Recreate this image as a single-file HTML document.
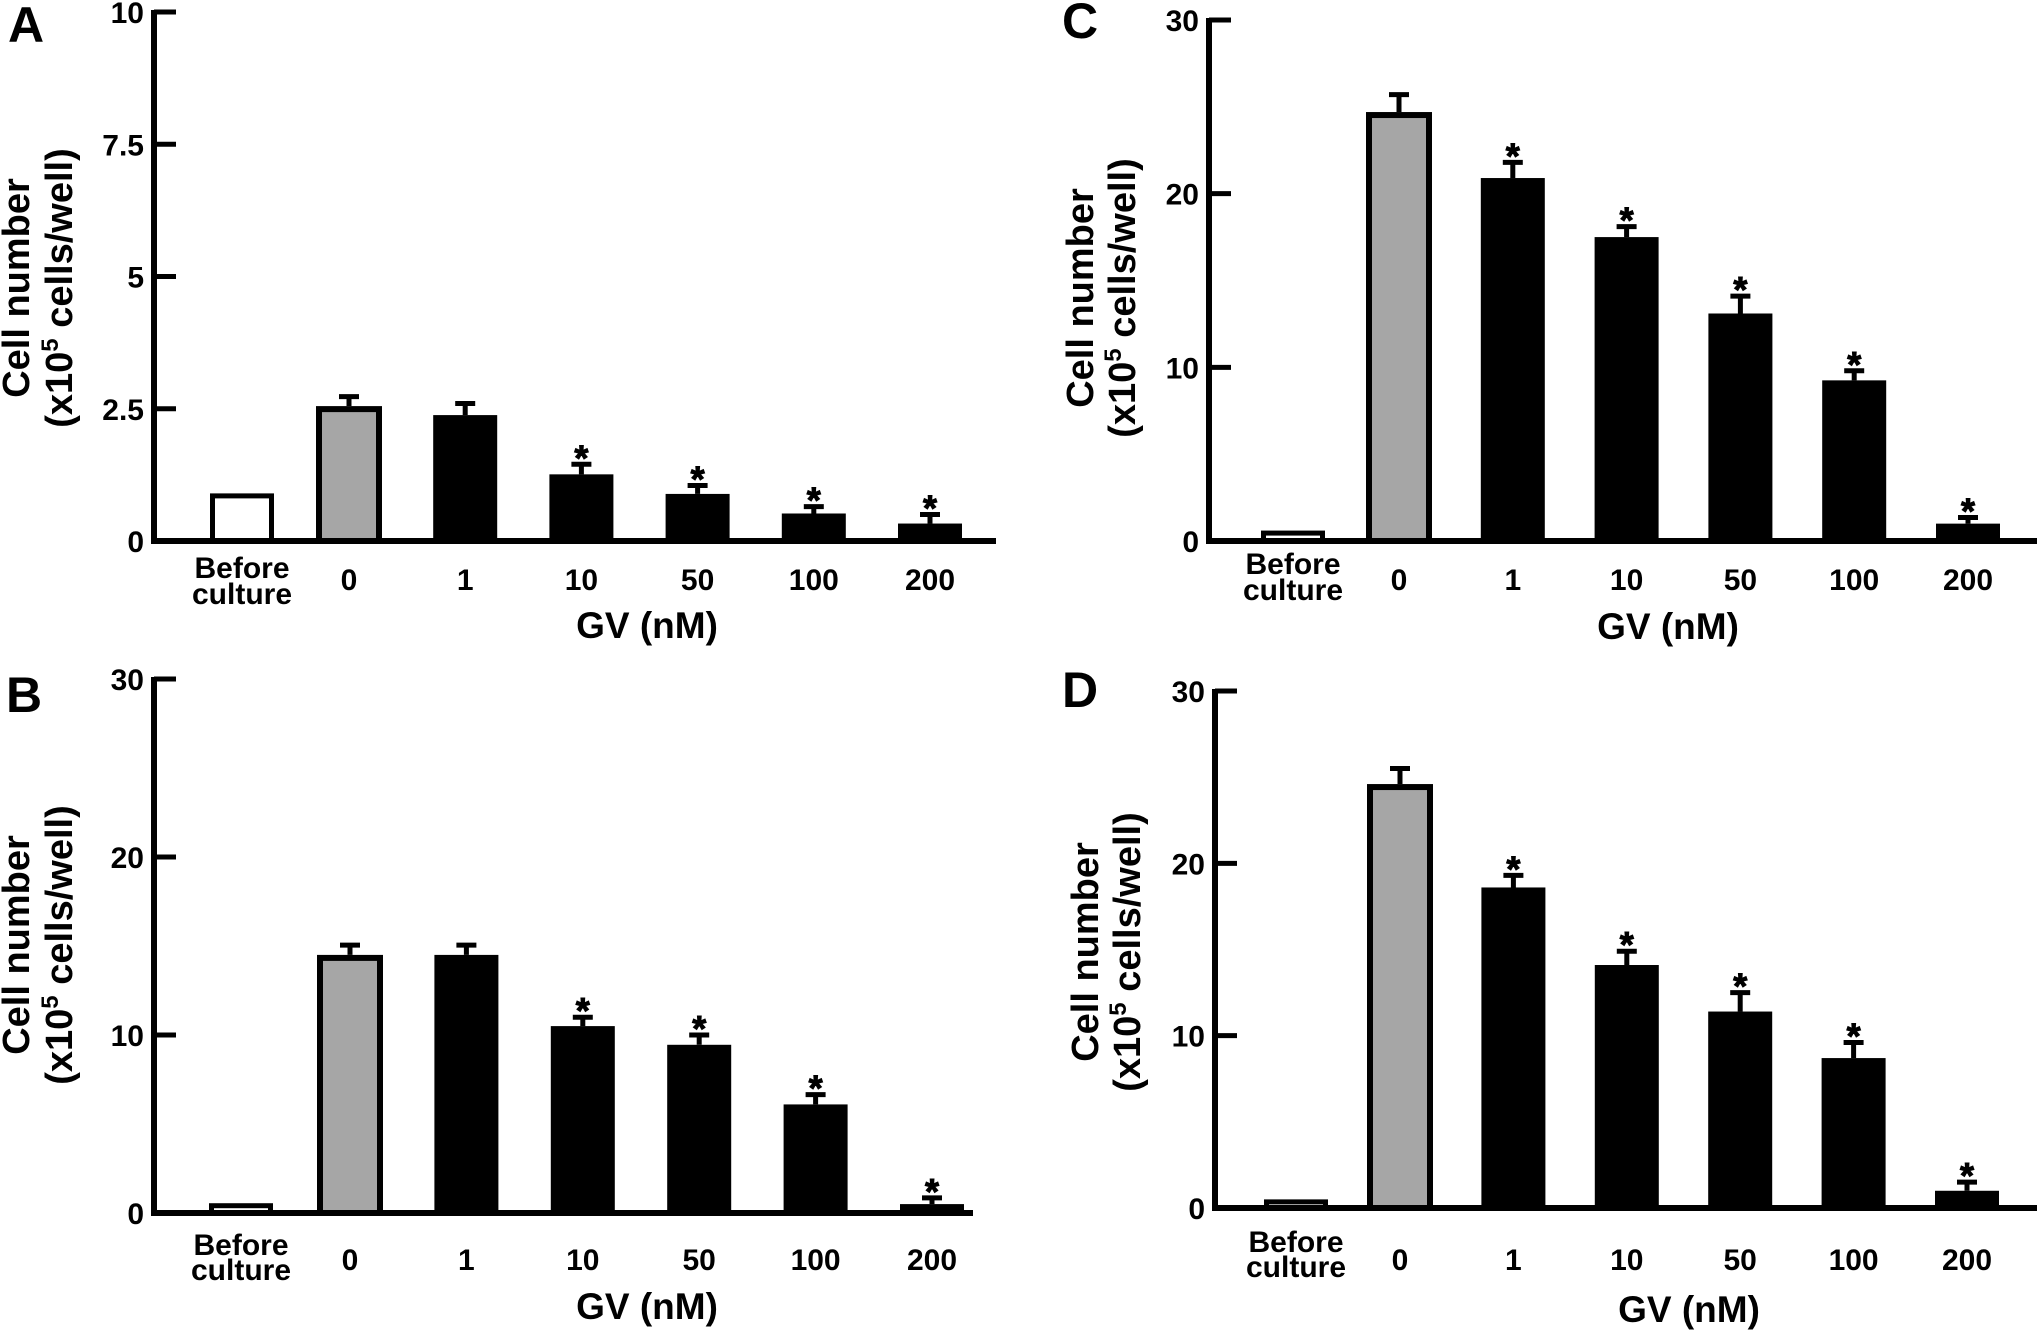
<!DOCTYPE html>
<html><head><meta charset="utf-8"><style>
html,body{margin:0;padding:0;background:#fff;}
svg{display:block;font-family:"Liberation Sans",Arial,sans-serif;font-weight:bold;}
</style></head><body>
<svg id="fig" width="2037" height="1331" viewBox="0 0 2037 1331"></svg>
<script>
const categories = ["Before culture","0","1","10","50","100","200"];
const valuesA = [0.9, 2.55, 2.38, 1.26, 0.89, 0.52, 0.33];
const errorsA = [0, 0.18, 0.22, 0.19, 0.16, 0.13, 0.17];
const starsA = [false,false,false,true,true,true,true];
const ticksA = [0, 2.5, 5, 7.5, 10];
const tickLabelsA = ["0","2.5","5","7.5","10"];
const valuesB = [0.55, 14.5, 14.5, 10.5, 9.45, 6.1, 0.5];
const errorsB = [0, 0.55, 0.55, 0.5, 0.55, 0.55, 0.35];
const starsB = [false,false,false,true,true,true,true];
const valuesC = [0.6, 24.7, 20.9, 17.5, 13.1, 9.25, 1.0];
const errorsC = [0, 1.0, 0.9, 0.6, 1.0, 0.55, 0.35];
const starsC = [false,false,true,true,true,true,true];
const valuesD = [0.5, 24.6, 18.6, 14.1, 11.4, 8.7, 1.0];
const errorsD = [0, 0.9, 0.7, 0.8, 1.1, 0.9, 0.5];
const starsD = [false,false,true,true,true,true,true];
const ticks30 = [0, 10, 20, 30];
const tickLabels30 = ["0","10","20","30"];

const NS = "http://www.w3.org/2000/svg";
const svg = document.getElementById("fig");
function mk(tag, attrs, parent){
  const e = document.createElementNS(NS, tag);
  for (const k in attrs) e.setAttribute(k, attrs[k]);
  (parent||svg).appendChild(e);
  return e;
}

function panel(p){
  const g = mk("g", {});
  
  
  const y = v => p.y0 - v * (p.y0 - p.yTop) / p.max;
  const cx = i => i === 0 ? p.c0 : p.c1 + (i - 1) * p.step;
  const L = mk("text", {x:p.lx, y:p.ly, "font-size":50, fill:"#000"}, g);
  L.textContent = p.letter;
  
  
  const t1 = mk("text", {transform:`translate(${p.t1x},${p.tcy}) rotate(-90)`, "text-anchor":"middle", "font-size":38, fill:"#000"}, g);
  t1.textContent = "Cell number";
  
  
  const t2 = mk("text", {transform:`translate(${p.t2x},${p.tcy}) rotate(-90)`, "text-anchor":"middle", "font-size":38, fill:"#000"}, g);
  t2.innerHTML = '(x10<tspan font-size="24" dy="-14">5</tspan><tspan dy="14"> cells/well)</tspan>';
  
  
  p.values.forEach((v, i) => {
    const w = i === 1 ? 66 : 64, x0 = cx(i) - w/2, top = y(v);
    let fill = "#000", sw = 0;
    if (i === 0) { fill = "#fff"; sw = 5; }
    if (i === 1) { fill = "#a6a6a6"; sw = 6; }
    const r = mk("rect", {x:x0 + sw/2, y:top + sw/2, width:w - sw, height:Math.max(p.y0 - top - sw/2, 0.5), fill:fill, stroke:"#000", "stroke-width":sw}, g);
    
    
    const e = p.errors[i];
    if (e > 0) {
      const et = y(v + e);
      const eb = mk("path", {d:`M${cx(i)},${top} V${et} M${cx(i)-10},${et} H${cx(i)+10}`, stroke:"#000", "stroke-width":5, fill:"none"}, g);
      
      
      if (p.stars[i]) {
        const s = mk("text", {x:cx(i), y:et + 6, "text-anchor":"middle", "font-size":36, fill:"#000", stroke:"#000", "stroke-width":1}, g);
        s.textContent = "*";
        
        
      }
    }
    if (i === 0) {
      const a = mk("text", {x:cx(i), y:p.b1, "text-anchor":"middle", "font-size":30, fill:"#000"}, g);
      a.textContent = "Before";
      
      
      const b = mk("text", {x:cx(i), y:p.b2, "text-anchor":"middle", "font-size":30, fill:"#000"}, g);
      b.textContent = "culture";
      
      
    } else {
      const a = mk("text", {x:cx(i), y:p.nb, "text-anchor":"middle", "font-size":30, fill:"#000"}, g);
      a.textContent = categories[i];
      
      
    }
  });
  const ax = mk("path", {d:`M${p.ax},${p.yTop-2} V${p.y0} H${p.xEnd}`, stroke:"#000", "stroke-width":6, fill:"none"}, g);
  
  
  p.ticks.forEach((tv, k) => {
    const ty = y(tv);
    if (tv !== 0) {
      const tk = mk("line", {x1:p.ax, x2:p.ax+22, y1:ty, y2:ty, stroke:"#000", "stroke-width":5}, g);
      
      
    }
    const tl = mk("text", {x:p.ax-10, y:ty+11, "text-anchor":"end", "font-size":30, fill:"#000"}, g);
    tl.textContent = p.tickLabels[k];
    
    
  });
  const gv = mk("text", {x:p.gx, y:p.gy, "text-anchor":"middle", "font-size":37, fill:"#000"}, g);
  gv.textContent = "GV (nM)";
  
  
}

panel({letter:"A", lx:8, ly:42, ax:154, y0:541, yTop:12, max:10, xEnd:996, c0:242, c1:349, step:116.2,
  values:valuesA, errors:errorsA, stars:starsA, ticks:ticksA, tickLabels:tickLabelsA,
  t1x:29, t2x:72, tcy:288, b1:578, b2:604, nb:590, gx:647, gy:638});
panel({letter:"B", lx:6, ly:712, ax:154, y0:1213, yTop:679, max:30, xEnd:973, c0:241, c1:350, step:116.4,
  values:valuesB, errors:errorsB, stars:starsB, ticks:ticks30, tickLabels:tickLabels30,
  t1x:29, t2x:72, tcy:945, b1:1255, b2:1280, nb:1270, gx:647, gy:1319});
panel({letter:"C", lx:1062, ly:38, ax:1209, y0:541, yTop:20, max:30, xEnd:2037, c0:1293, c1:1399, step:113.8,
  values:valuesC, errors:errorsC, stars:starsC, ticks:ticks30, tickLabels:tickLabels30,
  t1x:1093, t2x:1135, tcy:298, b1:574, b2:600, nb:590, gx:1668, gy:639});
panel({letter:"D", lx:1062, ly:707, ax:1215, y0:1208, yTop:691, max:30, xEnd:2037, c0:1296, c1:1400, step:113.4,
  values:valuesD, errors:errorsD, stars:starsD, ticks:ticks30, tickLabels:tickLabels30,
  t1x:1098, t2x:1140, tcy:952, b1:1252, b2:1277, nb:1270, gx:1689, gy:1322});
</script>
</body></html>
